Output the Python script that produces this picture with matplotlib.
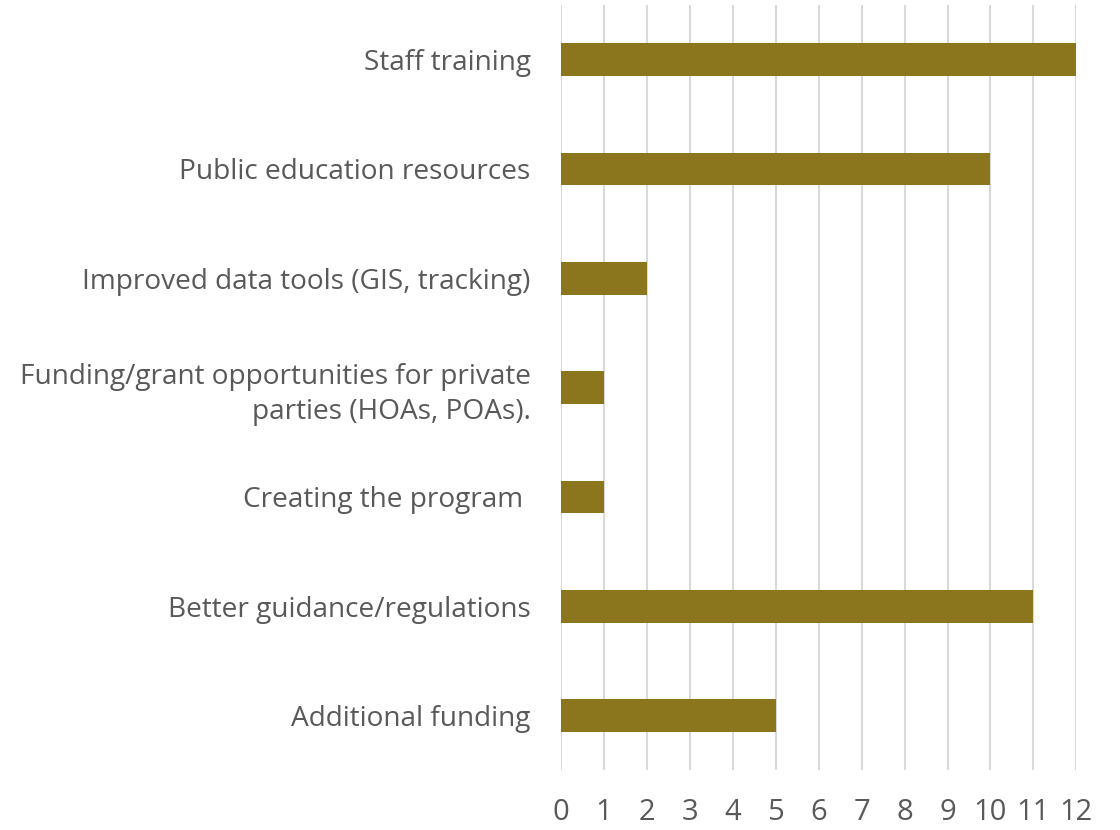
import matplotlib
matplotlib.use("Agg")
import matplotlib.pyplot as plt
import numpy as np

# data (top to bottom as shown)
categories = ["Staff training",
              "Public education resources",
              "Improved data tools (GIS, tracking)",
              "Funding/grant opportunities for private\nparties (HOAs, POAs).",
              "Creating the program ",
              "Better guidance/regulations",
              "Additional funding"]
counts = [12, 10, 2, 1, 1, 11, 5]
xticks = list(range(0, 13))

plt.rcParams['font.family'] = ['Open Sans', 'DejaVu Sans']
text_col = '#595959'

fig = plt.figure(figsize=(11.2, 8.3), dpi=100)
ax = fig.add_axes([0.501, 0.072, 0.46, 0.922])

y = np.arange(len(categories))
ax.barh(y, counts, height=0.3, color='#8B751D', zorder=3)

ax.set_ylim(len(categories) - 0.5, -0.5)
ax.set_xlim(0, 12)
ax.set_xticks(xticks)
ax.set_yticks(y)
ax.set_yticklabels(categories, fontsize=20.2, color=text_col, ha='right', linespacing=1.35)
ax.tick_params(axis='x', labelsize=21, labelcolor=text_col, length=0, pad=20)
ax.tick_params(axis='y', length=0, pad=22)

for s in ax.spines.values():
    s.set_visible(False)
ax.grid(axis='x', color='#d9d9d9', linewidth=1.5, zorder=0)
ax.grid(axis='y', visible=False)

fig.savefig("out.png", dpi=100)
